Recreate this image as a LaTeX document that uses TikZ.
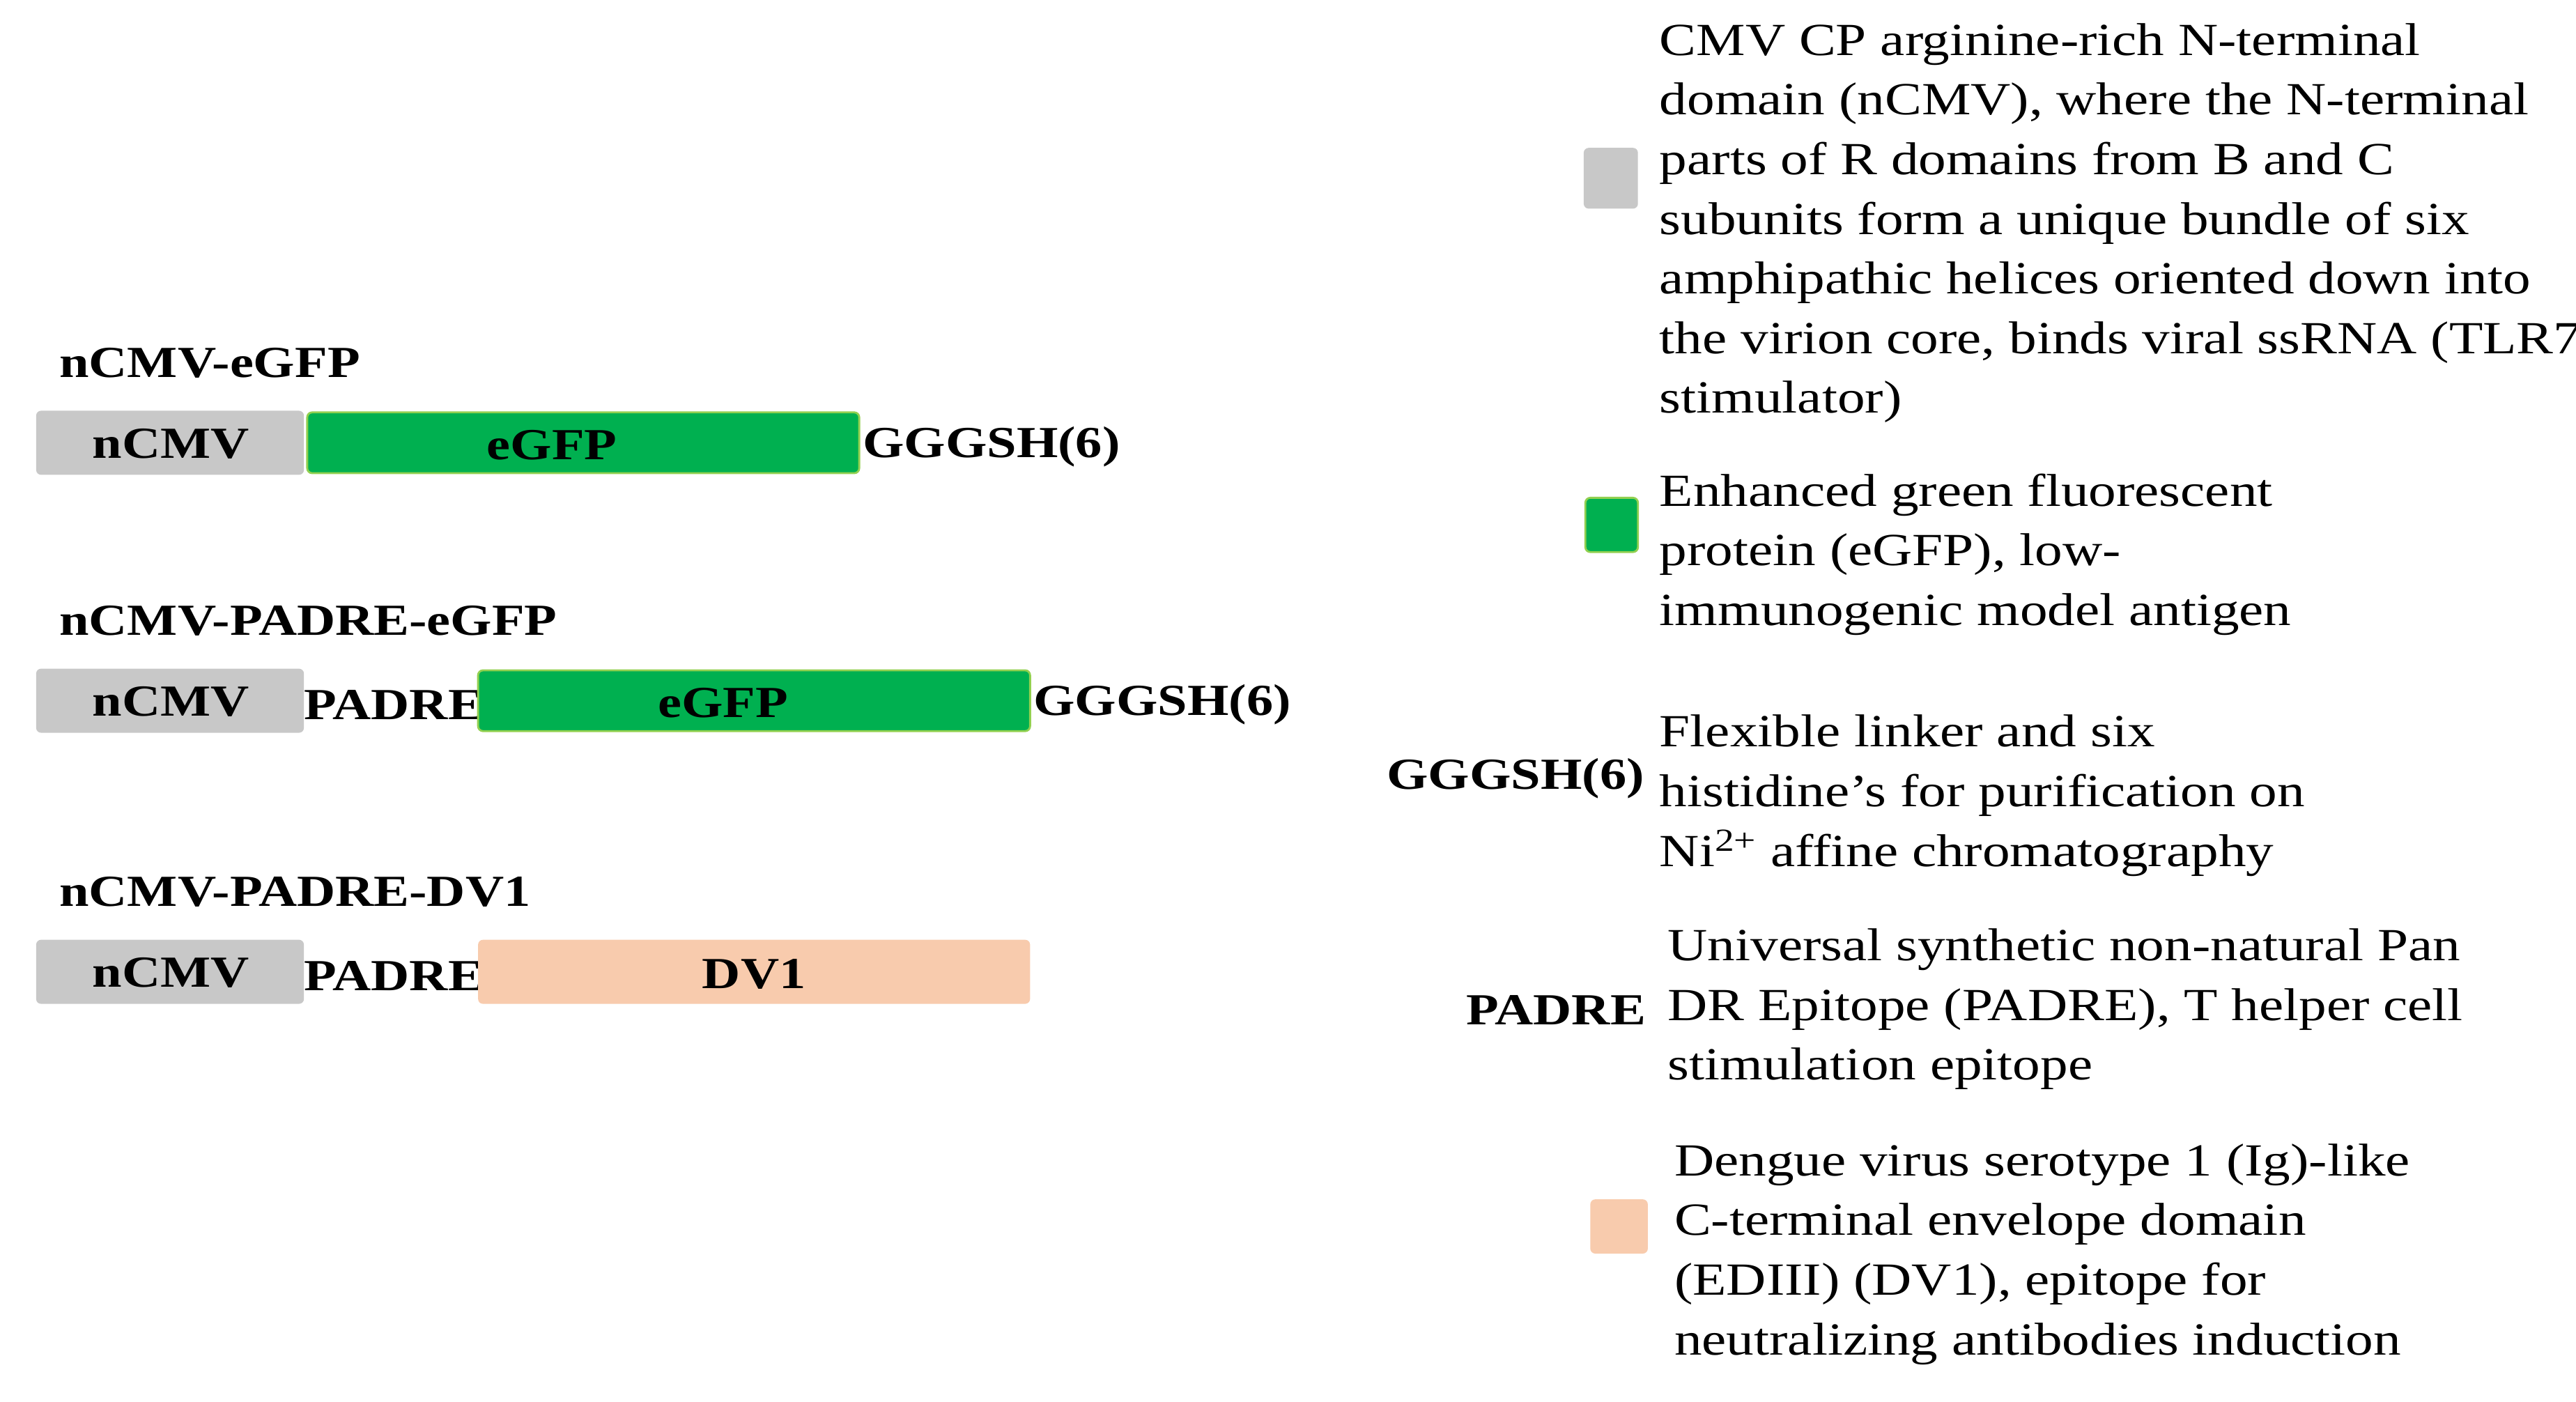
\documentclass[tikz,border=0pt]{standalone}
\usepackage{fontspec}
\setmainfont[FakeStretch=1.2]{Liberation Serif}
\begin{document}
\begin{tikzpicture}[x=1pt,y=-1pt,
  bar/.style={rounded corners=3pt,inner sep=0pt},
  gbar/.style={bar,fill={rgb,255:red,200;green,200;blue,200}},
  ebar/.style={bar,fill={rgb,255:red,0;green,176;blue,80},draw={rgb,255:red,146;green,208;blue,80},line width=1.2pt},
  pbar/.style={bar,fill={rgb,255:red,248;green,203;blue,173}},
  lbl/.style={font=\fontsize{27}{34}\selectfont\bfseries,inner sep=0pt},
  leg/.style={font=\fontsize{28}{36.3}\selectfont,align=left,anchor=north west,inner sep=0pt}]
\useasboundingbox (0,0) rectangle (1568,853);
% row 1
\node[lbl,anchor=west] (t1) at (36,221) {nCMV-eGFP};
\fill[gbar] (22,250) rectangle (185,289);
\node[lbl] (n1) at (104,270) {nCMV};
\draw[ebar] (187,251) rectangle (523,288);
\node[lbl] (e1) at (336,271) {eGFP};
\node[lbl,anchor=west] (g1) at (525,272) {GGGSH(6)};
% row 2
\node[lbl,anchor=west] (t2) at (36,378) {nCMV-PADRE-eGFP};
\fill[gbar] (22,407) rectangle (185,446);
\node[lbl] (n2) at (104,427) {nCMV};
\node[lbl,anchor=west] (p2) at (185,429) {PADRE};
\draw[ebar] (291,408) rectangle (627,445);
\node[lbl] (e2) at (440,428) {eGFP};
\node[lbl,anchor=west] (g2) at (629,429) {GGGSH(6)};
% row 3
\node[lbl,anchor=west] (t3) at (36,543) {nCMV-PADRE-DV1};
\fill[gbar] (22,572) rectangle (185,611);
\node[lbl] (n3) at (104,592) {nCMV};
\node[lbl,anchor=west] (p3) at (185,594) {PADRE};
\fill[pbar] (291,572) rectangle (627,611);
\node[lbl] (d3) at (459,593) {DV1};
% legend
\fill[gbar] (964,90) rectangle (997,127);
\node[leg] (l1) at (1010,14) {CMV CP arginine-rich N-terminal\\domain (nCMV), where the N-terminal\\parts of R domains from B and C\\subunits form a unique bundle of six\\amphipathic helices oriented down into\\the virion core, binds viral ssRNA (TLR7\\stimulator)};
\draw[ebar] (965,303) rectangle (997,336);
\node[leg] (l2) at (1010,288) {Enhanced green fluorescent\\protein (eGFP), low-\\immunogenic model antigen};
\node[lbl,anchor=east] (g3) at (1001,474) {GGGSH(6)};
\node[leg] (l3) at (1010,435) {Flexible linker and six\\histidine's for purification on\\Ni\textsuperscript{2+} affine chromatography};
\node[lbl,anchor=east] (p4) at (1002,615) {PADRE};
\node[leg] (l4) at (1015,565) {Universal synthetic non-natural Pan\\DR Epitope (PADRE), T helper cell\\stimulation epitope};
\fill[pbar] (968,730) rectangle (1003,763);
\node[leg] (l5) at (1019,696) {Dengue virus serotype 1 (Ig)-like\\C-terminal envelope domain\\(EDIII) (DV1), epitope for\\neutralizing antibodies induction};
\end{tikzpicture}
\end{document}
